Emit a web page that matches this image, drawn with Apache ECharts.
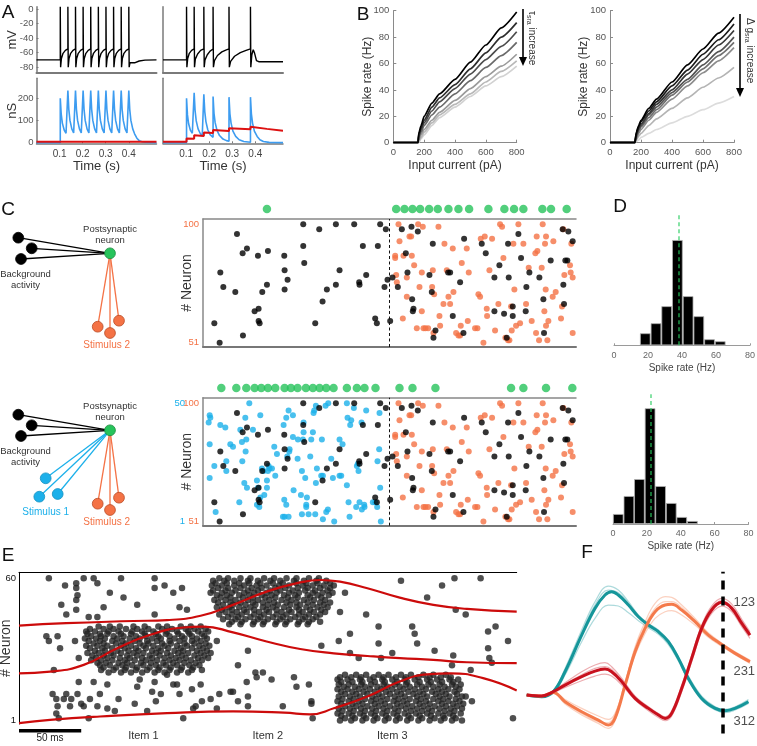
<!DOCTYPE html>
<html>
<head>
<meta charset="utf-8">
<script src="https://cdn.jsdelivr.net/npm/echarts@6.0.0/dist/echarts.min.js"></script>
<style>
html,body{margin:0;padding:0;background:#ffffff;}
#chart{width:757px;height:746px;}
</style>
</head>
<body>
<div id="chart"></div>
<script>
// ================= DATA =================
// ---- Panel A ----
const aTimeTicks = [0.1, 0.2, 0.3, 0.4];
const aVoltTicks = [0, -20, -40, -60, -80];
const aCondTicks = [0, 100, 200];
const aVoltRegular = [[0,-70],[0.103,-70],[0.103,3],[0.1045,-80],[0.108,-68],[0.115,-61],[0.125,-57],[0.136,-55],
[0.136,3],[0.1375,-80],[0.141,-68],[0.148,-61],[0.158,-57],[0.169,-55],
[0.169,3],[0.1705,-80],[0.174,-68],[0.181,-61],[0.191,-57],[0.202,-55],
[0.202,3],[0.2035,-80],[0.207,-68],[0.214,-61],[0.224,-57],[0.235,-55],
[0.235,3],[0.2365,-80],[0.240,-68],[0.247,-61],[0.257,-57],[0.268,-55],
[0.268,3],[0.2695,-80],[0.273,-68],[0.280,-61],[0.290,-57],[0.301,-55],
[0.301,3],[0.3025,-80],[0.306,-68],[0.313,-61],[0.323,-57],[0.334,-55],
[0.334,3],[0.3355,-80],[0.339,-68],[0.346,-61],[0.356,-57],[0.367,-55],
[0.367,3],[0.3685,-80],[0.372,-68],[0.379,-61],[0.389,-57],[0.400,-55],
[0.400,3],[0.4015,-80],[0.405,-74],[0.412,-76],[0.425,-74],[0.445,-71.5],[0.47,-70.3],[0.52,-70]];
const aVoltAdapt = [[0,-70],[0.102,-70],[0.102,3],[0.1035,-80],[0.107,-68],[0.114,-61],[0.124,-57],[0.135,-55],
[0.135,3],[0.1365,-80],[0.140,-69],[0.150,-62],[0.163,-57],[0.177,-55],
[0.177,3],[0.1785,-80],[0.182,-70],[0.192,-63],[0.204,-58],[0.217,-55],
[0.217,3],[0.2185,-80],[0.223,-71],[0.236,-64],[0.255,-59],[0.272,-56.5],[0.286,-55],
[0.286,3],[0.2875,-80],[0.293,-72],[0.31,-65],[0.335,-60],[0.36,-57],[0.379,-55],
[0.379,3],[0.3805,-80],[0.385,-63],[0.391,-56],[0.397,-61],[0.405,-71],[0.415,-72.5],[0.52,-72.5]];
const aSynRegular = [[0,0],[0.103,0],[0.103,200],[0.107,130],[0.112,88],[0.12,57],[0.128,42],[0.136,35],
[0.136,235],[0.14,150],[0.145,100],[0.153,62],[0.161,44],[0.169,35],
[0.169,235],[0.173,150],[0.178,100],[0.186,62],[0.194,44],[0.202,35],
[0.202,235],[0.206,150],[0.211,100],[0.219,62],[0.227,44],[0.235,35],
[0.235,235],[0.239,150],[0.244,100],[0.252,62],[0.26,44],[0.268,35],
[0.268,235],[0.272,150],[0.277,100],[0.285,62],[0.293,44],[0.301,35],
[0.301,235],[0.305,150],[0.31,100],[0.318,62],[0.326,44],[0.334,35],
[0.334,235],[0.338,150],[0.343,100],[0.351,62],[0.359,44],[0.367,35],
[0.367,235],[0.371,150],[0.376,100],[0.384,62],[0.392,44],[0.4,35],
[0.4,235],[0.404,150],[0.409,100],[0.417,62],[0.425,40],[0.435,20],[0.445,9],[0.46,3],[0.48,0.5],[0.52,0]];
const aSraRegular = [[0,4],[0.52,4]];
const aSynAdapt = [[0,0],[0.102,0],[0.102,200],[0.106,125],[0.111,85],[0.119,55],[0.127,42],[0.135,36],
[0.135,225],[0.139,145],[0.144,98],[0.152,62],[0.162,40],[0.17,30],[0.177,27],
[0.177,218],[0.181,140],[0.186,95],[0.194,58],[0.204,36],[0.212,27],[0.217,24],
[0.217,208],[0.221,132],[0.226,90],[0.234,55],[0.245,32],[0.26,16],[0.275,9],[0.286,6],
[0.286,205],[0.29,130],[0.295,88],[0.303,52],[0.315,28],[0.33,13],[0.35,5],[0.379,2],
[0.379,205],[0.383,130],[0.388,88],[0.396,52],[0.408,28],[0.42,13],[0.435,5],[0.46,1],[0.52,0]];
const aSraAdapt = [[0,4],[0.102,4],[0.102,19],[0.135,17],[0.135,33],[0.177,30],[0.177,46],[0.217,43],[0.217,57],[0.286,52],[0.286,65],[0.379,60],[0.379,72],[0.45,62],[0.52,54]];

// ---- Panel B ----
const bCurrentTicks = [0, 200, 400, 600, 800];
const bRateTicks = [0, 20, 40, 60, 80, 100];
const bTauCurrents = [0, 160, 165, 180, 200, 250, 300, 400, 500, 600, 700, 800];
const bTauRates = [
  [0,0,7,13,20,30,37,48,61,74,87,99],
  [0,0,6,11,17,27,34,44,56,68,80,91],
  [0,0,5,10,15,24,31,41,52,63,73,84],
  [0,0,4,8,13,21,27,37,47,57,66,76],
  [0,0,2,6,10,17,23,32,41,50,58,67],
  [0,0,1,4,8,15,21,29,37,46,54,62],
  [0,0,0,3,6,13,19,27,35,43,50,58]
];
const bTauColors = ['#000000','#2e2e2e','#4c4c4c','#6a6a6a','#9a9a9a','#b8b8b8','#d2d2d2'];
const bGCurrents = [0, 160, 170, 185, 200, 250, 300, 400, 500, 600, 700, 800];
const bGRates = [
  [0,0,8,13,17,26,33,46,59,71,83,95],
  [0,0,7,12,16,24,31,43,55,67,78,90],
  [0,0,6,11,14,22,29,40,52,63,74,85],
  [0,0,5,10,13,21,27,38,48,59,69,80],
  [0,0,4,9,12,19,25,36,46,56,66,76],
  [0,0,3,7,10,17,23,33,43,53,62,72],
  [0,0,2,5,7,13,18,26,34,42,49,57],
  [0,0,1,2,4,7,10,15,20,25,30,35]
];
const bGColors = ['#000000','#1c1c1c','#383838','#545454','#707070','#8c8c8c','#b4b4b4','#dcdcdc'];

// ---- Panel C (time in ms, neuron index) ----
const cStimSwitch = 560;
const cNeuronLabels = [51, 100];
const cStim1Labels = [1, 50];
const cBackground = [[34,59],[50,51],[52,80],[61,74],[102,96],[97,72],[120,54],[119,88],[132,90],[155,64],[165,87],[167,65],[167,60],[170,59],[178,72],[192,75],[195,89],[244,87],[245,81],[245,73],[254,77],[301,100],[301,91],[304,84],[337,59],[349,98],[359,68],[372,73],[399,100],[399,75],[410,81],[454,100],[469,76],[470,75],[480,91],[490,79],[517,61],[522,59],[525,91],[532,100],[545,74],[549,98],[554,77],[562,60],[569,78],
[585,74],[597,98],[609,88],[614,80],[626,99],[628,69],[630,64],[632,65],[645,97],[680,79],[687,72],[690,92],[692,53],[698,56],[736,80],[742,80],[750,62],[772,76],[782,55],[784,94],[837,92],[849,88],[875,78],[875,64],[890,83],[904,63],[912,53],[916,92],[918,78],[930,66],[930,62],[947,96],[955,86],[969,64],[971,74],[980,80],[1010,78],[1022,69],[1024,55],[1044,85],[1082,75],[1084,67],[1088,85],[1094,85],[1097,97],[1080,98],[1110,93]];
const cStim2 = [[587,100],[590,93],[577,87],[577,86],[580,79],[582,76],[602,87],[600,61],[612,70],[612,78],[620,95],[625,95],[627,87],[634,83],[646,100],[657,64],[660,99],[642,57],[650,74],[657,80],[662,57],[668,57],[676,57],[688,74],[690,81],[692,55],[694,71],[707,99],[710,62],[712,58],[722,67],[725,92],[732,81],[737,70],[742,67],[750,90],[752,72],[760,55],[767,54],[772,54],[774,58],[777,84],[792,90],[795,60],[798,80],[817,57],[824,57],[827,71],[832,70],[834,94],[842,51],[846,95],[852,65],[853,62],[860,81],[868,94],[877,56],[887,67],[892,100],[898,99],[902,86],[908,53],[916,52],[920,52],[925,66],[927,56],[932,92],[935,73],[940,58],[947,100],[952,59],[962,92],[970,67],[978,82],[987,60],[998,88],[1000,55],[1002,95],[1004,89],[1009,52],[1017,82],[1020,100],[1027,92],[1029,73],[1030,95],[1025,64],[1030,58],[1034,52],[1037,60],[1050,70],[1052,93],[1059,72],[1075,61],[1078,66],[1085,79],[1102,83],[1104,80],[1106,92],[1110,78],[1110,55],[1082,98]];
const cStim1 = [[17,42],[22,44],[20,45],[52,41],[67,40],[20,33],[34,24],[70,26],[20,19],[38,5],[82,33],[90,32],[112,39],[117,34],[127,44],[128,30],[130,35],[118,26],[132,15],[124,17],[109,9],[139,50],[150,39],[172,45],[162,18],[165,15],[172,11],[162,8],[169,7],[177,23],[182,22],[184,12],[192,18],[192,15],[195,22],[197,24],[200,23],[207,23],[217,20],[214,32],[222,29],[242,41],[250,44],[257,47],[270,45],[270,36],[260,31],[259,30],[253,28],[244,10],[250,8],[240,3],[245,3],[257,3],[272,14],[284,27],[285,35],[302,42],[302,38],[300,35],[297,22],[294,12],[307,19],[312,11],[310,8],[310,7],[297,4],[317,4],[322,28],[325,35],[330,38],[332,46],[334,47],[339,49],[339,17],[342,23],[337,4],[355,20],[360,20],[357,35],[368,49],[376,50],[370,5],[375,6],[360,2],[385,27],[390,19],[394,1],[410,35],[410,20],[415,20],[419,33],[432,50],[434,44],[432,16],[437,9],[440,3],[442,41],[445,43],[453,48],[460,7],[462,24],[465,25],[467,22],[470,9],[476,42],[477,6],[485,7],[490,47],[484,8],[510,9],[517,9],[523,7],[529,31],[524,26],[532,15],[534,1],[530,46],[70,22]];
const cPostTop = [192,580,605,629,652,679,705,737,767,799,857,905,934,962,1019,1045,1092];
const cPostBottom = [55,100,130,155,175,195,217,245,264,284,309,330,350,370,392,432,462,485,518,590,629,698,925,962,1030,1109];

// ---- Panel D ----
const dRateTicks = [0, 20, 40, 60, 80];
const dBinsTop = [18.4, 24.7, 31.0, 37.3, 43.6, 49.9, 56.2, 62.5];
const dCountsTop = [12, 22, 39, 105, 49, 29, 6, 4];
const dMeanTop = 38.1;
const dBinsBottom = [3.1, 9.4, 15.6, 21.9, 28.1, 34.4, 40.6, 46.9];
const dCountsBottom = [10, 28, 45, 116, 38, 21, 7, 3];
const dMeanBottom = 22.1;

// ---- Panel E (time ms, neuron) ----
const eItemTicks = [100, 200, 300];
const eItemLabels = ['Item 1', 'Item 2', 'Item 3'];
const eNeuronLabels = [1, 60];
const eScaleBarMs = 50;
const eBackground = [[24,60],[37,57],[46,58],[46,56],[52,60],[60,60],[63,58],[47,53],[34,49],[38,45],[46,51],[46,47],[56,44],[63,44],[68,48],[73,54],[82,60],[84,52],[95,49],[109,60],[109,56],[109,45],[117,57],[124,54],[131,56],[129,48],[135,47],
[262,54],[258,46],[279,45],[307,59],[328,52],[340,57],[350,60],[371,60],[351,47],[359,45],[289,40],[316,40],
[22,36],[24,34],[31,36],[33,31],[28,22],[45,34],[48,27],
[159,34],[176,24],[184,30],[243,32],[257,34],[266,37],[266,29],[273,27],[289,33],[291,27],[300,29],[318,37],[320,33],[334,30],[349,28],[348,24],[363,22],[377,38],[383,40],[393,34],[377,31],[378,27],[380,25],
[27,12],[30,10],[31,7],[30,4],[32,2],[36,10],[38,12],[41,7],[42,10],[47,12],[48,17],[50,8],[52,7],[56,2],[57,10],[60,17],[63,7],[65,12],[71,16],[71,6],[77,5],[80,10],[93,8],[95,15],[97,18],[103,5],[107,13],[109,17],[110,9],[114,12],[119,20],[124,16],[127,16],[129,12],[132,2],[139,14],[140,6],[142,7],[146,16],[147,9],[154,10],[159,6],[161,12],[170,13],[172,13],[176,9],[183,17],[184,7],[184,11],[190,21],[191,19],[196,21],[203,18],[212,7],[221,19],[223,15],[233,16],[235,9],[235,8],[236,2],[359,11],[364,9],[397,2]];
const eItem1Rows = [
[40,[64,73,81,92,101,112,119,130,138,146]],
[39,[57,68,76,86,95,104,115,123,134,141,150]],
[38,[54,61,72,80,91,99,108,119,127,136,144,152]],
[37,[55,65,71,82,90,101,110,118,128,137,147]],
[36,[58,66,76,84,94,102,112,121,131,139,149]],
[35,[53,62,69,79,89,97,107,114,125,133,143,151]],
[34,[56,65,75,83,93,103,111,121,129,139,146]],
[33,[60,68,78,86,97,104,115,122,133,141,150]],
[32,[54,63,71,82,90,100,108,117,127,135,145,153]],
[31,[57,67,75,85,94,102,112,120,130,139,148]],
[30,[61,69,79,88,96,107,114,125,132,143,151]],
[29,[55,64,74,82,92,100,110,119,128,136,146,154]],
[28,[59,68,76,87,95,105,113,122,131,141,149]],
[27,[62,71,81,89,99,107,117,126,134,144,152]],
[26,[58,66,75,85,93,102,111,121,129,138,147]],
[25,[63,70,80,87,98,106,116,124,133,142]],
[24,[65,73,83,91,100,110,118,127,137,145]],
[23,[68,78,86,95,105,113,122,131,140]],
[22,[66,76,85,94,103,112,121,130,139,147]],
[21,[72,82,90,99,109,117,127,136]]];
const eItem2Rows = [
[60,[161,168,178,186,197,205,215,223,233,241]],
[59,[156,165,173,184,192,202,210,221,229,239,247]],
[58,[158,167,177,185,194,204,212,223,231,240,250]],
[57,[155,163,173,181,191,199,209,217,228,236,245,253]],
[56,[160,168,178,187,195,206,214,224,232,242,250]],
[55,[156,166,174,184,192,202,210,220,230,238,248]],
[54,[154,163,171,181,189,199,207,217,225,236,244,252]],
[53,[159,167,177,185,195,203,213,222,232,240,249]],
[52,[162,170,180,188,198,206,216,224,234,243]],
[51,[157,166,174,184,192,201,211,219,229,237,246]],
[50,[160,170,178,188,196,205,215,223,232,242,250]],
[49,[164,172,182,190,200,208,218,226,236,245]],
[48,[159,169,177,186,196,204,213,223,231,240,248]],
[47,[163,171,181,189,199,207,217,225,234,243]],
[46,[166,175,183,193,201,211,219,228,237,246]],
[45,[161,171,179,189,197,207,215,225,233,242]],
[44,[168,176,186,194,204,212,222,230,239]],
[43,[164,174,182,192,200,210,218,228,236]],
[42,[171,179,189,197,207,215,225,233,242]],
[41,[169,178,188,196,206,214,224,232]]];
const eItem3Rows = [
[20,[262,271,279,289,297,307,315,325,333,343]],
[19,[258,267,275,285,293,303,311,321,330,339,347]],
[18,[256,264,274,282,292,300,310,318,328,336,346,353]],
[17,[259,268,276,286,294,304,312,322,331,340,349]],
[16,[257,265,275,283,293,302,311,320,329,338,348,355]],
[15,[261,270,278,288,296,306,314,324,333,342,351]],
[14,[256,264,273,282,291,300,309,318,327,337,345,354]],
[13,[259,268,277,286,295,304,313,322,332,340,350]],
[12,[262,271,280,289,298,307,317,325,335,343,352]],
[11,[257,266,274,284,292,302,310,320,328,338,346,356]],
[10,[260,269,278,287,296,305,314,323,333,341,351]],
[9,[256,265,273,283,291,301,309,319,327,337,345,354]],
[8,[259,268,276,286,294,304,312,322,330,340,349,357]],
[7,[262,271,280,289,298,307,316,325,334,343,352]],
[6,[257,266,275,284,293,302,311,320,329,338,347,356]],
[5,[260,269,278,287,296,305,315,324,332,342,350]],
[4,[256,265,274,283,292,301,310,319,328,337,346,355]],
[3,[259,268,277,286,295,304,313,322,331,341,349]],
[2,[262,270,279,288,297,306,315,324,334,342,351]],
[1,[258,267,276,285,294,303,312,321,330,339,348,356]]];
const eCurveA = [[0,40.4],[38,41.4],[92,42.3],[119,42.7],[146,44.5],[172,49.0],[199,54.5],[226,58.3],[242,59.3],[258,58.6],[280,55.9],[306,52.0],[333,49.0],[360,47.3],[400,46.2]];
const eCurveB = [[0,20.6],[25,21.3],[52,24.1],[79,31.0],[105,36.5],[132,39.6],[148,40.0],[172,37.6],[199,33.8],[226,30.7],[253,28.9],[280,27.8],[306,26.9],[333,26.2],[360,25.2],[400,24.8]];
const eCurveC = [[0,0],[25,1.3],[65,2.7],[119,4.1],[172,4.8],[213,4.3],[234,3.6],[253,6.1],[280,11.0],[306,17.2],[328,20.2],[347,20.6],[373,18.6],[400,13.5]];

// ---- Panel F ----
const fDecisionTime = 1.0;
const fTealMain = [[0,1.15],[0.077,1.1],[0.136,1.25],[0.196,1.85],[0.281,2.95],[0.349,3.75],[0.4,4.15],[0.434,4.25],[0.468,4.15],[0.52,3.85],[0.571,3.5],[0.622,3.25],[0.673,3.05],[0.724,2.75],[0.775,2.25],[0.826,1.65],[0.894,1.05],[0.963,0.75],[1.014,0.68],[1.065,0.75],[1.133,0.95]];
const fTealTrials = [
[[0,1.15],[0.077,1.1],[0.136,1.28],[0.196,1.95],[0.281,3.1],[0.349,3.95],[0.417,4.42],[0.468,4.3],[0.52,3.95],[0.571,3.55],[0.622,3.3],[0.673,3.1],[0.724,2.8],[0.775,2.3],[0.826,1.72],[0.894,1.12],[0.963,0.8],[1.014,0.72],[1.065,0.8],[1.133,1.02]],
[[0,1.15],[0.077,1.1],[0.136,1.22],[0.196,1.75],[0.281,2.75],[0.349,3.45],[0.417,3.85],[0.468,3.82],[0.52,3.62],[0.571,3.38],[0.622,3.17],[0.673,2.97],[0.724,2.66],[0.775,2.17],[0.826,1.58],[0.894,1.0],[0.963,0.7],[1.014,0.62],[1.065,0.7],[1.133,0.9]],
[[0,1.15],[0.077,1.1],[0.136,1.26],[0.196,1.9],[0.281,3.02],[0.349,3.85],[0.417,4.3],[0.468,4.22],[0.52,3.9],[0.571,3.48],[0.622,3.22],[0.673,3.02],[0.724,2.72],[0.775,2.2],[0.826,1.6],[0.894,1.08],[0.963,0.78],[1.014,0.7],[1.065,0.78],[1.133,0.98]]];
const fOrangeMain = [[0,1.15],[0.077,1.12],[0.136,1.23],[0.196,0.95],[0.281,0.65],[0.366,0.4],[0.417,0.25],[0.451,0.45],[0.503,1.45],[0.554,2.45],[0.605,3.15],[0.656,3.65],[0.707,3.85],[0.741,3.87],[0.792,3.7],[0.86,3.35],[0.928,2.95],[1.0,2.65],[1.065,2.4],[1.141,2.15]];
const fOrangeTrials = [
[[0,1.15],[0.077,1.12],[0.136,1.2],[0.196,0.88],[0.281,0.55],[0.366,0.3],[0.417,0.15],[0.451,0.38],[0.503,1.5],[0.554,2.6],[0.605,3.35],[0.656,3.9],[0.707,4.1],[0.741,4.08],[0.792,3.85],[0.86,3.45],[0.928,3.02],[1.0,2.7],[1.065,2.45],[1.141,2.2]],
[[0,1.15],[0.077,1.12],[0.136,1.25],[0.196,1.02],[0.281,0.75],[0.366,0.52],[0.417,0.42],[0.451,0.6],[0.503,1.45],[0.554,2.35],[0.605,3.0],[0.656,3.45],[0.707,3.65],[0.741,3.68],[0.792,3.55],[0.86,3.25],[0.928,2.88],[1.0,2.6],[1.065,2.36],[1.141,2.1]],
[[0,1.15],[0.077,1.12],[0.136,1.22],[0.196,0.92],[0.281,0.6],[0.366,0.35],[0.417,0.32],[0.451,0.55],[0.503,1.55],[0.554,2.55],[0.605,3.25],[0.656,3.75],[0.707,3.95],[0.741,3.95],[0.792,3.78],[0.86,3.4],[0.928,2.98],[1.0,2.68],[1.065,2.42],[1.141,2.17]]];
const fRedMain = [[0,1.15],[0.077,1.12],[0.136,1.25],[0.196,1.45],[0.281,1.7],[0.349,1.87],[0.4,1.93],[0.434,1.85],[0.486,1.55],[0.554,1.05],[0.622,0.75],[0.673,0.55],[0.707,0.45],[0.741,0.6],[0.792,1.35],[0.843,2.25],[0.894,3.15],[0.945,3.7],[0.997,3.93],[1.048,3.75],[1.099,3.3],[1.141,2.95]];
const fRedTrials = [
[[0,1.15],[0.077,1.12],[0.136,1.28],[0.196,1.52],[0.281,1.85],[0.349,2.05],[0.4,2.12],[0.434,2.0],[0.486,1.65],[0.554,1.12],[0.622,0.8],[0.673,0.6],[0.707,0.5],[0.741,0.68],[0.792,1.45],[0.843,2.35],[0.894,3.25],[0.945,3.82],[0.997,4.05],[1.048,3.88],[1.099,3.42],[1.141,3.05]],
[[0,1.15],[0.077,1.12],[0.136,1.22],[0.196,1.38],[0.281,1.58],[0.349,1.72],[0.4,1.78],[0.434,1.72],[0.486,1.45],[0.554,1.0],[0.622,0.68],[0.673,0.48],[0.707,0.38],[0.741,0.52],[0.792,1.25],[0.843,2.15],[0.894,3.05],[0.945,3.6],[0.997,3.82],[1.048,3.65],[1.099,3.2],[1.141,2.85]],
[[0,1.15],[0.077,1.12],[0.136,1.26],[0.196,1.48],[0.281,1.76],[0.349,1.95],[0.4,2.0],[0.434,1.92],[0.486,1.6],[0.554,1.08],[0.622,0.78],[0.673,0.58],[0.707,0.48],[0.741,0.64],[0.792,1.4],[0.843,2.3],[0.894,3.2],[0.945,3.76],[0.997,3.98],[1.048,3.8],[1.099,3.36],[1.141,3.0]]];
const fOrderLabels = [[1.0,3.93,'123'],[1.0,1.87,'231'],[1.0,0.35,'312']];

// ================= STYLE / BUILD =================
const FONT = '"Liberation Sans", Arial, Helvetica, sans-serif';
const ORANGE = '#f47245', BLUE = '#1cb0ea', GREEN = '#27c35b', GRAY = '#7a7a7a';
const TEAL = '#15969a', FORANGE = '#f47a4b', FRED = '#c8111e';

function aLine(c, w) { return { show: true, onZero: false, lineStyle: { color: c, width: w } }; }
const OFF = { show: false };

const grids = [
  { left: 36.5, top: 6.7, width: 120, height: 66.3 },     // 0 A1 V
  { left: 36.5, top: 78.3, width: 120, height: 65 },      // 1 A1 g
  { left: 163, top: 6.7, width: 120, height: 66.3 },      // 2 A2 V
  { left: 163, top: 78.3, width: 120, height: 65 },       // 3 A2 g
  { left: 393.3, top: 10.7, width: 123.4, height: 132 },  // 4 B1
  { left: 610, top: 10.7, width: 124, height: 132 },      // 5 B2
  { left: 203, top: 219, width: 373, height: 128 },       // 6 C1
  { left: 203, top: 397.7, width: 373, height: 128 },     // 7 C2
  { left: 614, top: 215, width: 136, height: 130.3 },     // 8 D1
  { left: 613, top: 394.3, width: 135.5, height: 129.7 }, // 9 D2
  { left: 19, top: 572.3, width: 497.7, height: 151.7 },  // 10 E
  { left: 526.7, top: 571.7, width: 223.3, height: 161.7 }// 11 F
].map(g => Object.assign({ containLabel: false, outerBoundsMode: 'none', show: false }, g));

const lbl = (extra) => Object.assign({ show: true, fontFamily: FONT, fontSize: 9.5, color: '#555' }, extra);
const nameStyle = (size, color) => ({ fontFamily: FONT, fontSize: size, color: color || '#333' });
const NM = { nameMoveOverlap: false };

const xAxes = [
  { gridIndex: 0, type: 'value', min: 0, max: 0.52, axisLine: aLine(GRAY, 2), axisTick: OFF, axisLabel: OFF, splitLine: OFF },
  Object.assign({ gridIndex: 1, type: 'value', min: 0, max: 0.52, axisLine: aLine(GRAY, 1.5), axisTick: { show: true, inside: true, length: 2, customValues: aTimeTicks, lineStyle: { color: GRAY } }, axisLabel: lbl({ customValues: aTimeTicks, fontSize: 10, color: '#444', margin: 6 }), splitLine: OFF, name: 'Time (s)', nameLocation: 'middle', nameGap: 17, nameTextStyle: nameStyle(13) }, NM),
  { gridIndex: 2, type: 'value', min: 0, max: 0.52, axisLine: aLine(GRAY, 2), axisTick: OFF, axisLabel: OFF, splitLine: OFF },
  Object.assign({ gridIndex: 3, type: 'value', min: 0, max: 0.52, axisLine: aLine(GRAY, 1.5), axisTick: { show: true, inside: true, length: 2, customValues: aTimeTicks, lineStyle: { color: GRAY } }, axisLabel: lbl({ customValues: aTimeTicks, fontSize: 10, color: '#444', margin: 6 }), splitLine: OFF, name: 'Time (s)', nameLocation: 'middle', nameGap: 17, nameTextStyle: nameStyle(13) }, NM),
  Object.assign({ gridIndex: 4, type: 'value', min: 0, max: 800, interval: 200, axisLine: aLine('#8a8a8a', 1), axisTick: { show: true, inside: true, length: 3, lineStyle: { color: '#8a8a8a' } }, axisLabel: lbl({ margin: 5 }), splitLine: OFF, name: 'Input current (pA)', nameLocation: 'middle', nameGap: 17, nameTextStyle: nameStyle(12) }, NM),
  Object.assign({ gridIndex: 5, type: 'value', min: 0, max: 800, interval: 200, axisLine: aLine('#8a8a8a', 1), axisTick: { show: true, inside: true, length: 3, lineStyle: { color: '#8a8a8a' } }, axisLabel: lbl({ margin: 5 }), splitLine: OFF, name: 'Input current (pA)', nameLocation: 'middle', nameGap: 17, nameTextStyle: nameStyle(12) }, NM),
  { gridIndex: 6, type: 'value', min: 0, max: 1120, axisLine: aLine('#777', 2), axisTick: OFF, axisLabel: OFF, splitLine: OFF },
  { gridIndex: 7, type: 'value', min: 0, max: 1120, axisLine: aLine('#777', 2), axisTick: OFF, axisLabel: OFF, splitLine: OFF },
  Object.assign({ gridIndex: 8, type: 'value', min: 0, max: 80, interval: 20, axisLine: aLine('#9a9a9a', 1), axisTick: { show: true, inside: true, length: 2, lineStyle: { color: '#9a9a9a' } }, axisLabel: lbl({ fontSize: 9, color: '#666', margin: 6 }), splitLine: OFF, name: 'Spike rate (Hz)', nameLocation: 'middle', nameGap: 18, nameTextStyle: nameStyle(10, '#444') }, NM),
  Object.assign({ gridIndex: 9, type: 'value', min: 0, max: 80, interval: 20, axisLine: aLine('#9a9a9a', 1), axisTick: { show: true, inside: true, length: 2, lineStyle: { color: '#9a9a9a' } }, axisLabel: lbl({ fontSize: 9, color: '#666', margin: 5 }), splitLine: OFF, name: 'Spike rate (Hz)', nameLocation: 'middle', nameGap: 17, nameTextStyle: nameStyle(10, '#444') }, NM),
  { gridIndex: 10, type: 'value', min: 0, max: 400, axisLine: OFF, axisTick: OFF, axisLabel: lbl({ customValues: eItemTicks, formatter: v => eItemLabels[eItemTicks.indexOf(v)] || '', fontSize: 11, color: '#333', margin: 6 }), splitLine: OFF },
  { gridIndex: 11, type: 'value', min: 0, max: 1.141, show: false },
  // extra top frame lines
  { gridIndex: 6, type: 'value', position: 'top', min: 0, max: 1120, axisLine: aLine('#888', 1.5), axisTick: OFF, axisLabel: OFF, splitLine: OFF },
  { gridIndex: 7, type: 'value', position: 'top', min: 0, max: 1120, axisLine: aLine('#888', 1.5), axisTick: OFF, axisLabel: OFF, splitLine: OFF },
  { gridIndex: 10, type: 'value', position: 'top', min: 0, max: 400, axisLine: aLine('#000', 1), axisTick: OFF, axisLabel: OFF, splitLine: OFF }
];

const yAxes = [
  Object.assign({ gridIndex: 0, type: 'value', min: -88, max: 3, axisLine: aLine(GRAY, 1.5), axisTick: { show: true, inside: true, length: 2, customValues: aVoltTicks, lineStyle: { color: GRAY } }, axisLabel: lbl({ customValues: aVoltTicks, margin: 3 }), splitLine: OFF, name: 'mV', nameLocation: 'middle', nameRotate: 90, nameGap: 18, nameTextStyle: nameStyle(13) }, NM),
  Object.assign({ gridIndex: 1, type: 'value', min: -3, max: 290, axisLine: aLine(GRAY, 1.5), axisTick: { show: true, inside: true, length: 2, customValues: aCondTicks, lineStyle: { color: GRAY } }, axisLabel: lbl({ customValues: aCondTicks, margin: 3 }), splitLine: OFF, name: 'nS', nameLocation: 'middle', nameRotate: 90, nameGap: 18, nameTextStyle: nameStyle(13) }, NM),
  { gridIndex: 2, type: 'value', min: -88, max: 3, axisLine: aLine(GRAY, 1.5), axisTick: OFF, axisLabel: OFF, splitLine: OFF },
  { gridIndex: 3, type: 'value', min: -3, max: 290, axisLine: aLine(GRAY, 1.5), axisTick: OFF, axisLabel: OFF, splitLine: OFF },
  Object.assign({ gridIndex: 4, type: 'value', min: 0, max: 100, interval: 20, axisLine: aLine('#8a8a8a', 1), axisTick: { show: true, inside: true, length: 3, lineStyle: { color: '#8a8a8a' } }, axisLabel: lbl({ margin: 4 }), splitLine: OFF, name: 'Spike rate (Hz)', nameLocation: 'middle', nameRotate: 90, nameGap: 20, nameTextStyle: nameStyle(12) }, NM),
  Object.assign({ gridIndex: 5, type: 'value', min: 0, max: 100, interval: 20, axisLine: aLine('#8a8a8a', 1), axisTick: { show: true, inside: true, length: 3, lineStyle: { color: '#8a8a8a' } }, axisLabel: lbl({ margin: 4 }), splitLine: OFF, name: 'Spike rate (Hz)', nameLocation: 'middle', nameRotate: 90, nameGap: 20, nameTextStyle: nameStyle(12) }, NM),
  Object.assign({ gridIndex: 6, type: 'value', position: 'left', min: 49.2, max: 102.2, axisLine: aLine('#888', 1.5), axisTick: OFF, axisLabel: lbl({ customValues: cNeuronLabels, color: ORANGE, margin: 4 }), splitLine: OFF, name: '# Neuron', nameLocation: 'middle', nameRotate: 90, nameGap: 9, nameTextStyle: nameStyle(14) }, NM),
  Object.assign({ gridIndex: 7, type: 'value', position: 'left', min: 49.3, max: 102.3, axisLine: aLine('#888', 1.5), axisTick: OFF, axisLabel: lbl({ customValues: cNeuronLabels, color: ORANGE, margin: 4 }), splitLine: OFF, name: '# Neuron', nameLocation: 'middle', nameRotate: 90, nameGap: 9, nameTextStyle: nameStyle(14) }, NM),
  { gridIndex: 8, type: 'value', min: 0, max: 130, show: false },
  { gridIndex: 9, type: 'value', min: 0, max: 130, show: false },
  Object.assign({ gridIndex: 10, type: 'value', position: 'left', min: -0.4, max: 62.5, axisLine: aLine('#000', 1), axisTick: OFF, axisLabel: lbl({ customValues: eNeuronLabels, color: '#111', margin: 3 }), splitLine: OFF, name: '# Neuron', nameLocation: 'middle', nameRotate: 90, nameGap: 6, nameTextStyle: nameStyle(14) }, NM),
  { gridIndex: 11, type: 'value', min: 0, max: 4.85, show: false },
  // blue axis (stimulus-1 neurons 1..50) sharing C2, on the left
  { gridIndex: 7, type: 'value', position: 'left', offset: 0, min: -0.7, max: 52.3, axisLine: OFF, axisTick: OFF, axisLabel: lbl({ customValues: cStim1Labels, color: BLUE, margin: 18 }), splitLine: OFF }
];

const series = [];
function line(xi, yi, data, color, width, extra) {
  series.push(Object.assign({ type: 'line', xAxisIndex: xi, yAxisIndex: yi, data: data, symbol: 'none', silent: true, animation: false, lineStyle: { color: color, width: width } }, extra || {}));
}
function dots(xi, yi, data, color, size, extra) {
  series.push(Object.assign({ type: 'scatter', xAxisIndex: xi, yAxisIndex: yi, data: data, symbol: 'circle', symbolSize: size, silent: true, animation: false, itemStyle: { color: color } }, extra || {}));
}

// A
line(0, 0, aVoltRegular, '#000', 1.4);
line(1, 1, aSynRegular, '#3d9cf0', 1.6);
line(1, 1, aSraRegular, '#dd1111', 2);
line(2, 2, aVoltAdapt, '#000', 1.4);
line(3, 3, aSynAdapt, '#3d9cf0', 1.6);
line(3, 3, aSraAdapt, '#dd1111', 2);

// B
bTauRates.slice().reverse().forEach((rates, k) => {
  const idx = bTauRates.length - 1 - k;
  line(4, 4, bTauCurrents.map((c, i) => [c, rates[i]]), bTauColors[idx], 1.7, { smooth: 0.2, smoothMonotone: 'x' });
});
bGRates.slice().reverse().forEach((rates, k) => {
  const idx = bGRates.length - 1 - k;
  line(5, 5, bGCurrents.map((c, i) => [c, rates[i]]), bGColors[idx], 1.7, { smooth: 0.2, smoothMonotone: 'x' });
});

// C
const cPostLevel = 106.3;
const stimMark = { silent: true, symbol: 'none', label: { show: false }, lineStyle: { type: [3, 2.5], color: '#111', width: 1 }, data: [{ xAxis: cStimSwitch }] };
dots(6, 6, cStim2, ORANGE, 6);
dots(6, 6, cBackground, '#000', 6, { markLine: stimMark });
dots(6, 6, cPostTop.map(t => [t, cPostLevel]), GREEN, 8.5, { clip: false });
dots(7, 12, cStim1, BLUE, 6);
dots(7, 7, cStim2, ORANGE, 6);
dots(7, 7, cBackground, '#000', 6, { markLine: stimMark });
dots(7, 7, cPostBottom.map(t => [t, cPostLevel]), GREEN, 8.5, { clip: false });

// D
function hist(xi, bins, counts, mean) {
  series.push({ type: 'bar', xAxisIndex: xi, yAxisIndex: xi, data: bins.map((b, i) => [b, counts[i]]), barWidth: 10.6, silent: true, animation: false,
    itemStyle: { color: '#000', borderColor: '#b0b0b0', borderWidth: 0.8 },
    markLine: { silent: true, symbol: 'none', label: { show: false }, lineStyle: { type: [4, 3], color: 'rgba(40,205,95,0.7)', width: 1.6 }, data: [{ xAxis: mean }] } });
}
hist(8, dBinsTop, dCountsTop, dMeanTop);
hist(9, dBinsBottom, dCountsBottom, dMeanBottom);

// E
const eDots = eBackground.slice();
[eItem1Rows, eItem2Rows, eItem3Rows].forEach(rows => rows.forEach(([n, ts]) => ts.forEach(t => eDots.push([t, n]))));
dots(10, 10, eDots, '#232323', 6.5);
[eCurveA, eCurveB, eCurveC].forEach(c => line(10, 10, c, '#cc0b0b', 2.2, { smooth: 0.5 }));

// F
fTealTrials.forEach(d => line(11, 11, d, 'rgba(21,150,154,0.35)', 1.2, { smooth: 0.4 }));
fOrangeTrials.forEach(d => line(11, 11, d, 'rgba(244,122,75,0.35)', 1.2, { smooth: 0.4 }));
fRedTrials.forEach(d => line(11, 11, d, 'rgba(200,17,30,0.35)', 1.2, { smooth: 0.4 }));
line(11, 11, fTealMain, TEAL, 3, { smooth: 0.4 });
line(11, 11, fOrangeMain, FORANGE, 3, { smooth: 0.4 });
line(11, 11, fRedMain, FRED, 3, { smooth: 0.4, markLine: { silent: true, symbol: 'none', label: { show: false }, lineStyle: { type: [9, 7], color: '#000', width: 3.5 }, data: [{ xAxis: fDecisionTime }] } });
dots(11, 11, fOrderLabels, 'rgba(0,0,0,0)', 0, { clip: false, label: { show: true, position: 'right', distance: 11, formatter: p => p.data[2], fontFamily: FONT, fontSize: 13, color: '#222' } });

// ---------- graphic (panel letters, schematics, annotations) ----------
function T(x, y, s, st, el) {
  return Object.assign({ type: 'text', x: x, y: y, silent: true, z: 10,
    style: Object.assign({ text: s, fontFamily: FONT, fontSize: 9.5, fill: '#333', align: 'center', verticalAlign: 'middle', textAlign: 'center', textVerticalAlign: 'middle' }, st || {}) }, el || {});
}
function L(x1, y1, x2, y2, c, w) { return { type: 'line', silent: true, z: 5, shape: { x1: x1, y1: y1, x2: x2, y2: y2 }, style: { stroke: c, lineWidth: w || 1.2 } }; }
function Cn(cx, cy, fill, stroke) { return { type: 'circle', silent: true, z: 6, shape: { cx: cx, cy: cy, r: 5.4 }, style: { fill: fill, stroke: stroke || fill, lineWidth: 0.8 } }; }

const graphic = [];
// panel letters
[['A', 8, 13], ['B', 363, 15], ['C', 8, 210], ['D', 620, 207], ['E', 8, 556], ['F', 587, 553]].forEach(([s, x, y]) => graphic.push(T(x, y, s, { fontSize: 19, fill: '#111' })));

// schematic helper
function schematic(y0, withStim1) {
  const post = [110, y0 + 253.3];
  const bg = [[18.3, y0 + 237.7], [31.7, y0 + 248.3], [21, y0 + 259]];
  const s2 = [[97.7, y0 + 326.7], [110, y0 + 333], [119, y0 + 320.7]];
  bg.forEach(p => graphic.push(L(p[0], p[1], post[0], post[1], '#000', 1.3)));
  s2.forEach(p => graphic.push(L(post[0], post[1], p[0], p[1], ORANGE, 1.3)));
  if (withStim1) {
    const s1 = [[45.7, y0 + 301.3], [39.3, y0 + 319.7], [57.7, y0 + 317]];
    s1.forEach(p => graphic.push(L(post[0], post[1], p[0], p[1], BLUE, 1.3)));
    s1.forEach(p => graphic.push(Cn(p[0], p[1], BLUE, '#1590c0')));
    graphic.push(T(45.7, y0 + 335.3, 'Stimulus 1', { fill: BLUE, fontSize: 10 }));
  }
  bg.forEach(p => graphic.push(Cn(p[0], p[1], '#000')));
  s2.forEach(p => graphic.push(Cn(p[0], p[1], ORANGE, '#b94b26')));
  graphic.push(Cn(post[0], post[1], GREEN, '#1a8a3e'));
  graphic.push(T(110, y0 + 229.3, 'Postsynaptic'));
  graphic.push(T(110, y0 + 240.7, 'neuron'));
  graphic.push(T(25.5, y0 + 274, 'Background'));
  graphic.push(T(25.5, y0 + 285, 'activity'));
  graphic.push(T(106.7, y0 + 345.7, 'Stimulus 2', { fill: ORANGE, fontSize: 10 }));
}
schematic(0, false);
schematic(177, true);

// B arrows and rotated annotations
function arrow(x, y1, y2) {
  graphic.push(L(x, y1, x, y2 - 7, '#000', 1.6));
  graphic.push({ type: 'polygon', silent: true, z: 6, shape: { points: [[x - 4, y2 - 9], [x + 4, y2 - 9], [x, y2]] }, style: { fill: '#000' } });
}
arrow(523, 9, 66);
arrow(740, 14, 97);
const richB = { a: { fontFamily: FONT, fontSize: 10, fill: '#333', color: '#333', lineHeight: 13 }, b: { fontFamily: FONT, fontSize: 7, fill: '#333', color: '#333', verticalAlign: 'bottom', lineHeight: 13 } };
graphic.push(T(532, 11, '{a|\u03c4}{b|sra}{a| increase}', { align: 'left', textAlign: 'left', rich: richB }, { rotation: -Math.PI / 2 }));
graphic.push(T(750, 18, '{a|\u0394 g}{b|sra}{a| increase}', { align: 'left', textAlign: 'left', rich: richB }, { rotation: -Math.PI / 2 }));

// E scale bar label
graphic.push(T(50, 738.5, '50 ms', { fontSize: 10, fill: '#222' }));

const option = {
  animation: false,
  backgroundColor: '#ffffff',
  textStyle: { fontFamily: FONT },
  grid: grids,
  xAxis: xAxes,
  yAxis: yAxes,
  series: series,
  graphic: graphic
};

const chart = echarts.init(document.getElementById('chart'), null, { renderer: 'canvas' });
chart.setOption(option);

// scale bar (50 ms) drawn through the E time scale
const eGridIdx = 10;
const p0 = chart.convertToPixel({ gridIndex: eGridIdx }, [0, -0.4]);
const p1 = chart.convertToPixel({ gridIndex: eGridIdx }, [eScaleBarMs, -0.4]);
graphic.push({ id: 'scalebar', type: 'rect', silent: true, z: 10, shape: { x: p0[0], y: p0[1] + 5, width: p1[0] - p0[0], height: 3.5 }, style: { fill: '#000' } });
chart.setOption({ graphic: graphic });
</script>
</body>
</html>
